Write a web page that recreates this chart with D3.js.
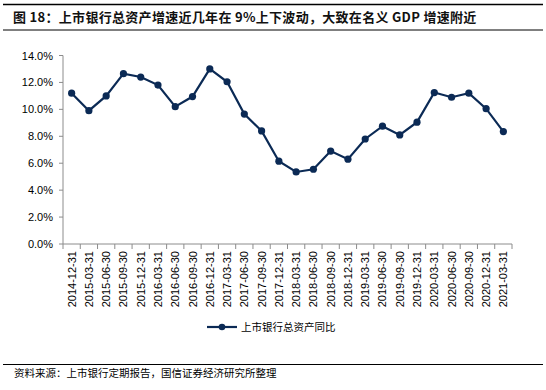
<!DOCTYPE html>
<html><head><meta charset="utf-8">
<script src="https://cdn.jsdelivr.net/npm/d3@7"></script>
<style>body{margin:0;background:#fff}svg{display:block}</style>
</head><body>
<script>
const categories = ["2014-12-31","2015-03-31","2015-06-30","2015-09-30","2015-12-31","2016-03-31","2016-06-30","2016-09-30","2016-12-31","2017-03-31","2017-06-30","2017-09-30","2017-12-31","2018-03-31","2018-06-30","2018-09-30","2018-12-31","2019-03-31","2019-06-30","2019-09-30","2019-12-31","2020-03-31","2020-06-30","2020-09-30","2020-12-31","2021-03-31"];
const values = [11.2, 9.9, 11.0, 12.65, 12.4, 11.8, 10.2, 10.95, 13.0, 12.05, 9.65, 8.4, 6.15, 5.35, 5.55, 6.9, 6.3, 7.8, 8.75, 8.1, 9.05, 11.25, 10.9, 11.2, 10.05, 8.35];
const yTicks = [0, 2, 4, 6, 8, 10, 12, 14];
const seriesName = "上市银行总资产同比";
const title = "图 18：上市银行总资产增速近几年在 9%上下波动，大致在名义 GDP 增速附近";
const source = "资料来源：上市银行定期报告，国信证券经济研究所整理";

const W = 546, H = 390;
const svg = d3.select("body").append("svg").attr("width", W).attr("height", H);
const color = "#0b2a55";
const axisColor = "#8c8c8c";

// title band
svg.append("line").attr("x1",3).attr("x2",543).attr("y1",4.5).attr("y2",4.5).attr("stroke","#000").attr("stroke-width",1.5);
svg.append("line").attr("x1",3).attr("x2",543).attr("y1",30).attr("y2",30).attr("stroke","#000").attr("stroke-width",1);
svg.append("text").attr("x",13).attr("y",22).attr("font-family","'Noto Sans CJK SC', sans-serif").attr("font-weight","bold").attr("font-size",13).attr("letter-spacing",0.3).attr("fill","#111").text(title);

const x = d3.scaleBand().domain(categories).range([63, 512]);
const y = d3.scaleLinear().domain([0, 14]).range([244, 55.5]);

const gx = svg.append("g").attr("transform","translate(0,244)");
gx.append("line").attr("x1",63).attr("x2",512).attr("stroke",axisColor);
gx.selectAll("line.t").data(categories.concat(["_end"])).enter().append("line")
  .attr("x1",(d,i)=>63 + i*x.step()).attr("x2",(d,i)=>63 + i*x.step()).attr("y1",0).attr("y2",5).attr("stroke",axisColor);
gx.selectAll("text").data(categories).enter().append("text")
  .attr("transform", d => `translate(${x(d)+x.bandwidth()/2+4},7) rotate(-90)`)
  .attr("text-anchor","end").attr("font-family","'Liberation Sans', Arial, sans-serif").attr("font-size",11).attr("fill","#000").text(d=>d);

const gy = svg.append("g");
gy.append("line").attr("x1",63).attr("x2",63).attr("y1",y(14)).attr("y2",y(0)).attr("stroke",axisColor);
gy.selectAll("line.t").data(yTicks).enter().append("line")
  .attr("x1",59).attr("x2",63).attr("y1",d=>y(d)).attr("y2",d=>y(d)).attr("stroke",axisColor);
gy.selectAll("text").data(yTicks).enter().append("text")
  .attr("x",53).attr("y",d=>y(d)+4).attr("text-anchor","end")
  .attr("font-family","'Liberation Sans', Arial, sans-serif").attr("font-size",11).attr("fill","#000")
  .text(d=>d.toFixed(1)+"%");

const line = d3.line().x((d,i)=>x(categories[i])+x.bandwidth()/2).y(d=>y(d));
svg.append("path").datum(values).attr("d",line).attr("fill","none").attr("stroke",color).attr("stroke-width",2.2);
svg.selectAll("circle.p").data(values).enter().append("circle")
  .attr("cx",(d,i)=>x(categories[i])+x.bandwidth()/2).attr("cy",d=>y(d)).attr("r",3.6).attr("fill",color);

// legend
svg.append("line").attr("x1",207).attr("x2",237).attr("y1",327).attr("y2",327).attr("stroke",color).attr("stroke-width",2.2);
svg.append("circle").attr("cx",222).attr("cy",327).attr("r",3.3).attr("fill",color);
svg.append("text").attr("x",241).attr("y",331).attr("font-family","'Noto Sans CJK SC', sans-serif").attr("font-size",10.5).attr("fill","#000").text(seriesName);

// footer
svg.append("line").attr("x1",3).attr("x2",543).attr("y1",364.5).attr("y2",364.5).attr("stroke","#000").attr("stroke-width",1.2);
svg.append("text").attr("x",14).attr("y",377).attr("font-family","'Noto Sans CJK SC', sans-serif").attr("font-size",10.5).attr("fill","#000").text(source);
</script>
</body></html>
